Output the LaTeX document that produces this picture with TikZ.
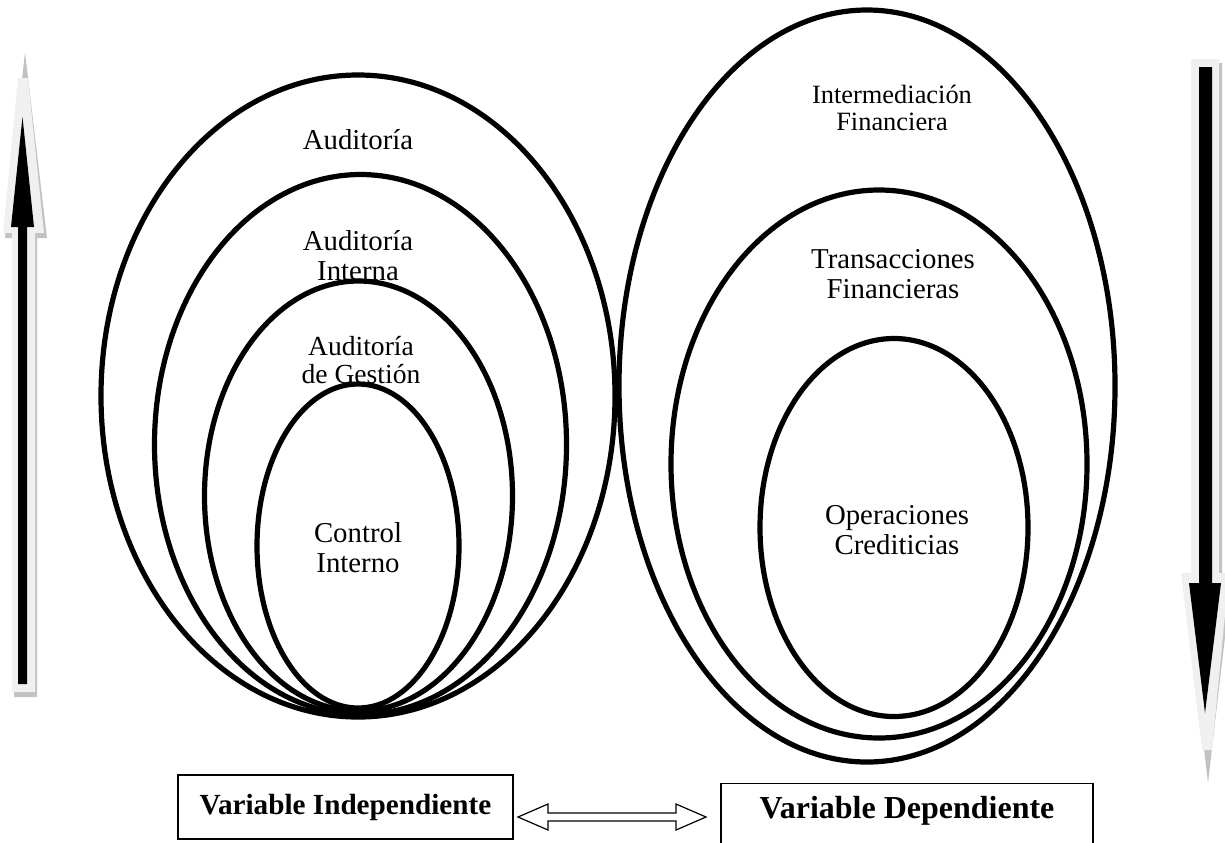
\documentclass[tikz,border=0pt]{standalone}
\usepackage{fontspec}
\setmainfont{Liberation Serif}
\usetikzlibrary{shapes.geometric}
\begin{document}
\begin{tikzpicture}[x=0.5pt,y=-0.5pt,
  ring/.style={draw, line width=2.6pt, ellipse, inner sep=0pt},
  lbl/.style={align=center, font=\fontsize{14.4}{15}\selectfont, inner sep=0pt},
  smalllbl/.style={align=center, font=\fontsize{13.2}{13.8}\selectfont, inner sep=0pt},
  midlbl/.style={align=center, font=\fontsize{13.8}{14.4}\selectfont, inner sep=0pt},
  varbox/.style={draw, line width=0.6pt, inner sep=0pt},
  glow/.style={fill=black!6},
  shade/.style={fill=black!24},
  hollow/.style={draw, line width=0.6pt, fill=white, line join=miter},
]
\useasboundingbox (0,0) rectangle (1225,842);

% upward arrow on the left: shadow, light rim, black body
\fill[shade] (25,52) -- (47,238) -- (37,238) -- (37,697) -- (14,697) -- (14,238) -- (5,238) -- cycle;
\fill[glow] (18,78) -- (28,78) -- (44,233) -- (35,233) -- (35,692) -- (12,692) -- (12,233) -- (3,233) -- cycle;
\fill (22.5,117) -- (34,227) -- (27,227) -- (27,684) -- (18,684) -- (18,227) -- (11,227) -- cycle;

% downward arrow on the right
\fill[shade] (1194,63) -- (1222,63) -- (1222,577) -- (1232,577) -- (1208,783) -- (1184,577) -- (1194,577) -- cycle;
\fill[glow] (1191,59) -- (1219,59) -- (1219,573) -- (1229,573) -- (1212,750) -- (1202,750) -- (1181,573) -- (1191,573) -- cycle;
\fill (1199,67) -- (1212,67) -- (1212,583) -- (1221,583) -- (1205,713) -- (1189,583) -- (1199,583) -- cycle;

% independent variable: nested ellipses (sizes in pt = half the pixel extent)
\node[ring, minimum width=257pt, minimum height=321pt] (aud) at (358,396) {};
\node[ring, minimum width=206pt, minimum height=270pt] (audint) at (360.5,444.5) {};
\node[ring, minimum width=154pt, minimum height=215pt] (audges) at (358.5,496) {};
\node[ring, minimum width=101pt, minimum height=162pt] (ctrl) at (358,546) {};

% dependent variable: nested ellipses
\node[ring, minimum width=248pt, minimum height=376pt] (inter) at (867,386) {};
\node[ring, minimum width=208pt, minimum height=274pt] (trans) at (879,464) {};
\node[ring, minimum width=134pt, minimum height=189pt] (oper) at (894,527.5) {};

% labels
\node[lbl] (taud) at (358,140) {Auditoría};
\node[lbl] (taudint) at (358,256) {Auditoría\\Interna};
\node[midlbl] (taudges) at (361,360) {Auditoría\\de Gestión};
\node[lbl] (tctrl) at (358,548) {Control\\Interno};
\node[smalllbl] (tinter) at (892,108) {Intermediación\\Financiera};
\node[lbl] (ttrans) at (893,274) {Transacciones\\Financieras};
\node[lbl] (toper) at (897,530) {Operaciones\\Crediticias};

% variable boxes
\node[varbox, font=\fontsize{14.6}{16}\selectfont\bfseries, minimum width=167.5pt, minimum height=32pt] (indep) at (345.5,807) {Variable Independiente};
\node[varbox, font=\fontsize{16}{17}\selectfont\bfseries, minimum width=186pt, anchor=north, text height=17.5pt, text depth=20pt] (dep) at (907,783) {Variable Dependiente};

% hollow double arrow between the boxes
\coordinate (tipL) at (518,817);
\coordinate (tipR) at (706,817);
\draw[hollow] (tipL) -- ++(30,-13) -- ++(0,9) -- ++(128,0) -- ++(0,-9) -- (tipR)
  -- ++(-30,13) -- ++(0,-9) -- ++(-128,0) -- ++(0,9) -- cycle;
\end{tikzpicture}
\end{document}
